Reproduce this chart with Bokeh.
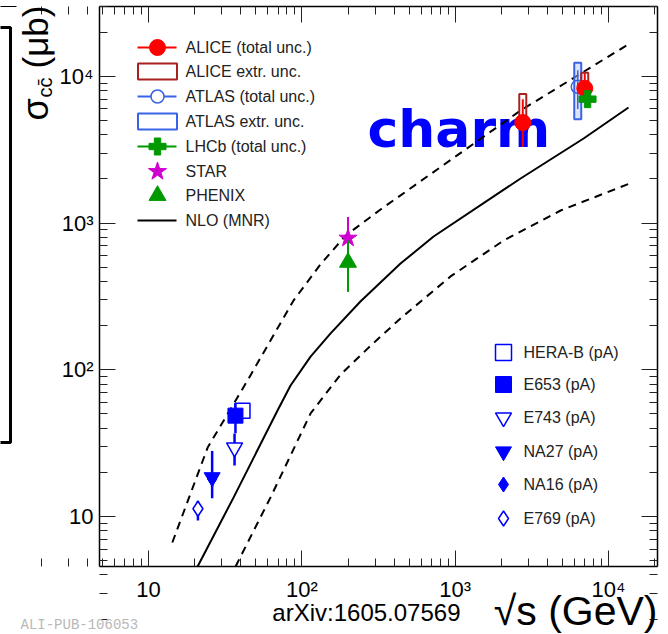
import math
from bokeh.plotting import figure
from bokeh.models import Range1d, LinearScale, LogScale, LogAxis, FixedTicker, Label
from bokeh.core.properties import value
from bokeh.embed import file_html
from bokeh.resources import INLINE

# ---------------- data ----------------
# NLO (MNR) central and uncertainty band
nlo_sqrts = [20.9, 35.9, 69.4, 84.4, 114, 154, 241, 440, 723, 2670, 6880, 13500]
nlo_central = [4.56, 13.5, 52.8, 78.2, 123, 177, 292, 530, 810, 2014, 3773, 6140]
nlo_up_sqrts = [14.3, 24.3, 44.2, 88.3, 132, 193, 326, 2670, 13730]
nlo_up = [6.65, 29.5, 84.5, 297, 522, 823, 1238, 5855, 16760]
nlo_lo_sqrts = [37.0, 38.1, 62.5, 114, 179, 281, 440, 933, 2069, 4870, 13730]
nlo_lo = [4.56, 4.86, 13.5, 50.4, 92.9, 146, 224, 433, 761, 1219, 1862]

# ALICE
alice_sqrts = [2760, 7000]
alice_sigma = [4850, 8300]
alice_tot_lo = [3300, 7200]
alice_tot_hi = [7000, 10500]
alice_ext_lo = [4400, 7700]
alice_ext_hi = [7600, 10600]
# ATLAS
atlas_sqrts = [6300]
atlas_sigma = [8500]
atlas_tot_lo = [6000]
atlas_tot_hi = [11000]
atlas_ext_lo = [5100]
atlas_ext_hi = [12400]
# LHCb
lhcb_sqrts = [7300]
lhcb_sigma = [7000]
lhcb_lo = [6100]
lhcb_hi = [7900]
# STAR / PHENIX
star_sqrts = [200]
star_sigma = [790]
star_lo = [560]
star_hi = [1100]
phenix_sqrts = [200]
phenix_sigma = [540]
phenix_lo = [340]
phenix_hi = [760]
# pA experiments
herab_sqrts = [41.0]; herab_sigma = [52.6]; herab_lo = [47]; herab_hi = [59]
e653_sqrts = [36.9]; e653_sigma = [48.7]; e653_lo = [37]; e653_hi = [59]
e743_sqrts = [36.4]; e743_sigma = [29.5]; e743_lo = [22.3]; e743_hi = [36.8]
na27_sqrts = [26.0]; na27_sigma = [18.5]; na27_lo = [13.3]; na27_hi = [28.0]
na16_sqrts = [26.0]; na16_sigma = [18.0]; na16_lo = [16.0]; na16_hi = [20.0]
e769_sqrts = [21.0]; e769_sigma = [11.3]; e769_lo = [9.4]; e769_hi = [12.8]

x_ticks = [10, 100, 1000, 10000]
x_tick_labels = ["10", "10²", "10³", "10⁴"]
y_ticks = [10, 100, 1000, 10000]
y_tick_labels = ["10", "10²", "10³", "10⁴"]

legend1_labels = ["ALICE (total unc.)", "ALICE extr. unc.", "ATLAS (total unc.)",
                  "ATLAS extr. unc.", "LHCb (total unc.)", "STAR", "PHENIX", "NLO (MNR)"]
legend2_labels = ["HERA-B (pA)", "E653 (pA)", "E743 (pA)", "NA27 (pA)", "NA16 (pA)", "E769 (pA)"]

# ---------------- styles ----------------
RED = "#ff0000"
DKRED = "#a82020"
ABLUE = "#3a62e6"
GREEN = "#009a00"
MAG = "#d000d0"
BLUE = "#0000ff"
FONT = "Liberation Sans"

W, H = 668, 634
# plotting box (axes) limits
XMIN, XMAX = 4.79, 20870
YMIN, YMAX = 4.562, 29970
# box edges in canvas pixels
BOX_L, BOX_R, BOX_T, BOX_B = 99, 657, 6, 566


def extend(lo, hi, a, b, n):
    """Log range that maps the box [a, b] (pixels) onto [lo, hi] across n pixels."""
    llo, lhi = math.log10(lo), math.log10(hi)
    per = (lhi - llo) / (b - a)
    return 10 ** (llo - a * per), 10 ** (lhi + (n - b) * per)


xr = extend(XMIN, XMAX, BOX_L, BOX_R, W)
yr = extend(YMIN, YMAX, H - BOX_B, H - BOX_T, H)

p = figure(width=W, height=H, x_axis_type=None, y_axis_type=None,
           x_range=Range1d(*xr), y_range=Range1d(*yr),
           x_axis_location=None, y_axis_location=None,
           output_backend="svg", toolbar_location=None,
           min_border_left=0, min_border_right=0, min_border_top=0, min_border_bottom=0)
p.x_scale = LogScale()
p.y_scale = LogScale()
p.extra_x_ranges = {"px": Range1d(0, W)}
p.extra_y_ranges = {"py": Range1d(0, H)}
p.extra_x_scales = {"px": LinearScale()}
p.extra_y_scales = {"py": LinearScale()}
p.outline_line_color = None
p.background_fill_color = "white"
p.border_fill_color = "white"

minor = [m * 10 ** e for e in range(0, 5) for m in range(2, 10)]


def make_axis(ticks, labels, show, loc, bounds):
    ax = LogAxis(fixed_location=loc, bounds=bounds)
    ax.ticker = FixedTicker(ticks=ticks, minor_ticks=minor)
    ax.major_tick_in = 16
    ax.major_tick_out = 0
    ax.minor_tick_in = 8
    ax.minor_tick_out = 0
    ax.major_tick_line_color = "#222222"
    ax.minor_tick_line_color = "#222222"
    ax.major_tick_line_width = 1
    ax.minor_tick_line_width = 1
    ax.axis_line_color = "black"
    ax.axis_line_width = 1.5
    if show:
        ax.major_label_overrides = {t: l for t, l in zip(ticks, labels)}
        ax.major_label_text_font = FONT
        ax.major_label_text_font_size = "22px"
        ax.major_label_text_color = "black"
    else:
        ax.major_label_text_font_size = "1px"
        ax.major_label_text_color = None
        ax.major_label_standoff = 0
    return ax


xb = make_axis(x_ticks, x_tick_labels, True, YMIN, (XMIN, XMAX))
xb.major_label_standoff = 10
p.add_layout(xb, "below")
yl = make_axis(y_ticks, y_tick_labels, True, XMIN, (YMIN, YMAX))
yl.major_label_standoff = 6
p.add_layout(yl, "left")
p.add_layout(make_axis(x_ticks, x_tick_labels, False, YMAX, (XMIN, XMAX)), "above")
p.add_layout(make_axis(y_ticks, y_tick_labels, False, XMAX, (YMIN, YMAX)), "right")

kw = dict(x_range_name="px", y_range_name="py")

# "charm" text
p.text(x=[367], y=[506], text=["charm"], text_font=value("DejaVu Sans"), text_font_style="bold",
       text_font_size=value("52px"), text_color=BLUE, text_baseline="alphabetic",
       text_align="left", **kw)

# NLO curves
p.line(nlo_sqrts, nlo_central, line_color="black", line_width=2)
p.line(nlo_up_sqrts, nlo_up, line_color="black", line_width=2, line_dash="8 6")
p.line(nlo_lo_sqrts, nlo_lo, line_color="black", line_width=2, line_dash="8 6")


def rect_box(xs, lo, hi, color, width=7, lw=2, fill=None, alpha=1.0):
    ys = [(a + b) / 2 for a, b in zip(lo, hi)]
    hs = [b - a for a, b in zip(lo, hi)]
    p.rect(x=xs, y=ys, width=width, height=hs, width_units="screen",
           line_color=color, line_width=lw, fill_color=fill, fill_alpha=alpha)


def errbar(xs, lo, hi, color, lw=2):
    p.segment(x0=xs, y0=lo, x1=xs, y1=hi, line_color=color, line_width=lw)


# pA data
errbar(e769_sqrts, e769_lo, e769_hi, BLUE, 2.5)
p.scatter(e769_sqrts, e769_sigma, marker="diamond", size=15, fill_color="white",
          line_color=BLUE, line_width=1.5)
errbar(na16_sqrts, na16_lo, na16_hi, BLUE, 2.5)
p.scatter(na16_sqrts, na16_sigma, marker="diamond", size=14, fill_color=BLUE, line_color=BLUE)
errbar(na27_sqrts, na27_lo, na27_hi, BLUE, 2.5)
p.scatter(na27_sqrts, na27_sigma, marker="inverted_triangle", size=16, fill_color=BLUE,
          line_color=BLUE)
errbar(e743_sqrts, e743_lo, e743_hi, BLUE, 2.5)
p.scatter(e743_sqrts, e743_sigma, marker="inverted_triangle", size=16, fill_color="white",
          line_color=BLUE, line_width=1.5)
errbar(herab_sqrts, herab_lo, herab_hi, BLUE, 2)
p.scatter(herab_sqrts, herab_sigma, marker="square", size=15, fill_color="white",
          line_color=BLUE, line_width=1.5)
errbar(e653_sqrts, e653_lo, e653_hi, BLUE, 2.5)
p.scatter(e653_sqrts, e653_sigma, marker="square", size=15, fill_color=BLUE, line_color=BLUE)

# STAR / PHENIX
errbar(star_sqrts, star_lo, star_hi, MAG, 2)
p.scatter(star_sqrts, star_sigma, marker="star", size=19, fill_color=MAG, line_color=MAG)
errbar(phenix_sqrts, phenix_lo, phenix_hi, GREEN, 2)
p.scatter(phenix_sqrts, phenix_sigma, marker="triangle", size=17, fill_color=GREEN,
          line_color=GREEN)

# LHC data
rect_box(atlas_sqrts, atlas_ext_lo, atlas_ext_hi, ABLUE, width=7, lw=2, fill="#b8c8f4", alpha=0.5)
errbar(atlas_sqrts, atlas_tot_lo, atlas_tot_hi, ABLUE, 1.5)
p.scatter(atlas_sqrts, atlas_sigma, marker="circle", size=13, fill_color=None,
          line_color=ABLUE, line_width=1.5)
errbar(alice_sqrts, alice_tot_lo, alice_tot_hi, RED, 2)
rect_box(alice_sqrts, alice_ext_lo, alice_ext_hi, DKRED, width=7, lw=2)
p.scatter(alice_sqrts, alice_sigma, marker="circle", size=16, fill_color=RED, line_color=RED)
errbar(lhcb_sqrts, lhcb_lo, lhcb_hi, GREEN, 2)
p.scatter(lhcb_sqrts, lhcb_sigma, marker="plus", size=17, fill_color=GREEN, line_color=GREEN)

# ---------------- legend 1 (top left), canvas pixel coordinates ----------------
L1_ROWS = [587, 563, 538, 513, 488, 463, 439, 414]
KX0, KX1, KXC, TX = 137, 176, 157, 185
line_rows = [L1_ROWS[0], L1_ROWS[2], L1_ROWS[4], L1_ROWS[7]]
line_cols = [RED, ABLUE, GREEN, "black"]
p.segment(x0=[KX0] * 4, y0=line_rows, x1=[KX1] * 4, y1=line_rows, line_color=line_cols,
          line_width=2, **kw)
p.scatter([KXC], [L1_ROWS[0]], marker="circle", size=16, fill_color=RED, line_color=RED, **kw)
p.rect([KXC], [L1_ROWS[1]], width=39, height=16, line_color=DKRED, line_width=2,
       fill_color=None, **kw)
p.scatter([KXC], [L1_ROWS[2]], marker="circle", size=13, fill_color="white",
          line_color=ABLUE, line_width=1.5, **kw)
p.rect([KXC], [L1_ROWS[3]], width=39, height=16, line_color=ABLUE, line_width=2,
       fill_color=None, **kw)
p.scatter([KXC], [L1_ROWS[4]], marker="plus", size=17, fill_color=GREEN, line_color=GREEN, **kw)
p.scatter([KXC], [L1_ROWS[5]], marker="star", size=19, fill_color=MAG, line_color=MAG, **kw)
p.scatter([KXC], [L1_ROWS[6]], marker="triangle", size=17, fill_color=GREEN,
          line_color=GREEN, **kw)
p.text(x=[TX] * 8, y=L1_ROWS, text=legend1_labels, text_font=value(FONT),
       text_font_size=value("16px"), text_color="#222222", text_baseline="middle", **kw)

# ---------------- legend 2 (bottom right) ----------------
L2_ROWS = [282, 250, 217, 183, 150, 116]
MX2, TX2 = 503, 523
p.scatter([MX2], [L2_ROWS[0]], marker="square", size=16, fill_color="white", line_color=BLUE,
          line_width=1.5, **kw)
p.scatter([MX2], [L2_ROWS[1]], marker="square", size=16, fill_color=BLUE, line_color=BLUE, **kw)
p.scatter([MX2], [L2_ROWS[2]], marker="inverted_triangle", size=16, fill_color="white",
          line_color=BLUE, line_width=1.5, **kw)
p.scatter([MX2], [L2_ROWS[3]], marker="inverted_triangle", size=16, fill_color=BLUE,
          line_color=BLUE, **kw)
p.scatter([MX2], [L2_ROWS[4]], marker="diamond", size=15, fill_color=BLUE, line_color=BLUE, **kw)
p.scatter([MX2], [L2_ROWS[5]], marker="diamond", size=15, fill_color="white", line_color=BLUE,
          line_width=1.5, **kw)
p.text(x=[TX2] * 6, y=L2_ROWS, text=legend2_labels, text_font=value(FONT),
       text_font_size=value("16px"), text_color="#222222", text_baseline="middle", **kw)


# ---------------- titles and notes (screen units = canvas pixels, y up) ----------------
def lab(x, y, text, size, **extra):
    opts = dict(x=x, y=y, text=text, x_units="screen", y_units="screen",
                text_font=FONT, text_font_size=size, text_color="black")
    opts.update(extra)
    p.add_layout(Label(**opts))


lab(35, 514, "σ", "36px", angle=math.pi / 2, text_align="left", text_baseline="alphabetic")
lab(44, 537, "cc\u0304", "20px", angle=math.pi / 2, text_align="left", text_baseline="alphabetic")
lab(35, 566, "(μb)", "35px", angle=math.pi / 2, text_align="left", text_baseline="alphabetic")
lab(657, 24, "√s (GeV)", "41px", text_align="right", text_baseline="alphabetic")
lab(460, 22, "arXiv:1605.07569", "24px", text_align="right", text_baseline="alphabetic")
lab(20, 10, "ALI-PUB-106053", "14px", text_align="left", text_baseline="alphabetic",
    text_font="Liberation Mono", text_color="#b8b8b8")

# frame remnants at the left edge of the picture
p.line(x=[-5, 10, 10, -5], y=[607, 607, 192, 192], line_color="black", line_width=3, **kw)
p.line(x=[-5, 16], y=[628, 628], line_color="black", line_width=1, **kw)

open("out.html", "w").write(file_html(p, INLINE))
